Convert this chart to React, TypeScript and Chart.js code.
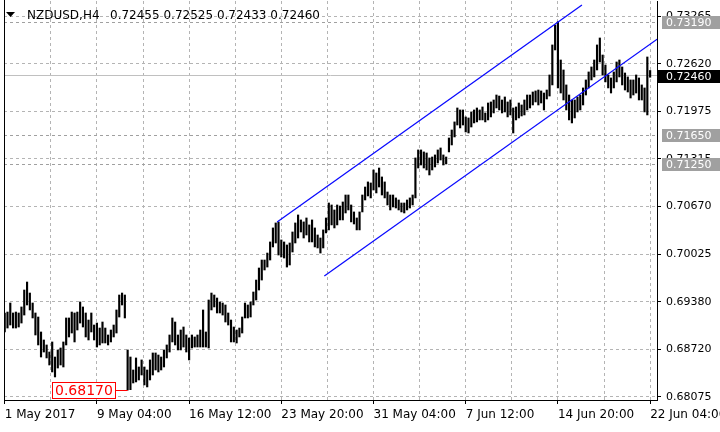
import React, { useEffect, useRef } from "react";
import { Chart, registerables } from "chart.js";

Chart.register(...registerables);

// H4 bars, 1 May 2017 20:00 -> 22 Jun 2017 04:00 (bar index = position)
const highs: number[] = [
  0.69220, 0.69233, 0.69356, 0.69220, 0.69233, 0.69220, 0.69302, 0.69533, 0.69642, 0.69492,
  0.69356, 0.69220, 0.69165, 0.68961, 0.68852, 0.68784, 0.68688, 0.68825, 0.68620, 0.68716,
  0.68743, 0.68825, 0.69152, 0.69152, 0.69233, 0.69220, 0.69233, 0.69370, 0.69302, 0.69220,
  0.69124, 0.69220, 0.69056, 0.69083, 0.69015, 0.69097, 0.69015, 0.68920, 0.68988, 0.69056,
  0.69261, 0.69465, 0.69492, 0.69465, 0.68716, 0.68620, 0.68443, 0.68607, 0.68484, 0.68580,
  0.68484, 0.68443, 0.68580, 0.68675, 0.68675, 0.68647, 0.68620, 0.68716, 0.68784, 0.68920,
  0.69152, 0.69097, 0.68920, 0.68988, 0.69029, 0.68920, 0.68879, 0.68920, 0.68893, 0.68920,
  0.68988, 0.69261, 0.68961, 0.69397, 0.69492, 0.69465, 0.69424, 0.69370, 0.69356, 0.69329,
  0.69220, 0.69124, 0.69029, 0.68988, 0.69015, 0.69165, 0.69356, 0.69329, 0.69370, 0.69506,
  0.69669, 0.69833, 0.69942, 0.69942, 0.70037, 0.70188, 0.70379, 0.70447, 0.70461, 0.70215,
  0.70188, 0.70147, 0.70174, 0.70324, 0.70447, 0.70556, 0.70488, 0.70461, 0.70515, 0.70420,
  0.70488, 0.70379, 0.70283, 0.70242, 0.70352, 0.70515, 0.70719, 0.70692, 0.70624, 0.70692,
  0.70678, 0.70733, 0.70828, 0.70828, 0.70692, 0.70597, 0.70515, 0.70597, 0.70828, 0.70937,
  0.71006, 0.70992, 0.71169, 0.71128, 0.71196, 0.71074, 0.71006, 0.70869, 0.70828, 0.70828,
  0.70788, 0.70760, 0.70719, 0.70719, 0.70760, 0.70788, 0.70828, 0.71333, 0.71442, 0.71442,
  0.71415, 0.71401, 0.71333, 0.71346, 0.71374, 0.71442, 0.71469, 0.71374, 0.71346, 0.71605,
  0.71714, 0.71824, 0.72014, 0.71987, 0.71987, 0.71892, 0.71878, 0.71960, 0.71987, 0.72014,
  0.71987, 0.72028, 0.71946, 0.72082, 0.72096, 0.72123, 0.72191, 0.72177, 0.72123, 0.72164,
  0.72096, 0.72123, 0.72014, 0.72028, 0.72082, 0.72055, 0.72123, 0.72191, 0.72191, 0.72232,
  0.72246, 0.72259, 0.72246, 0.72218, 0.72259, 0.72464, 0.72873, 0.73145, 0.73190, 0.72668,
  0.72532, 0.72328, 0.72191, 0.72123, 0.72123, 0.72164, 0.72191, 0.72287, 0.72396, 0.72505,
  0.72573, 0.72668, 0.72873, 0.72968, 0.72736, 0.72600, 0.72464, 0.72423, 0.72505, 0.72641,
  0.72668, 0.72573, 0.72491, 0.72437, 0.72396, 0.72396, 0.72464, 0.72423, 0.72328, 0.72287,
  0.72709, 0.72525,
];

const lows: number[] = [
  0.68961, 0.69015, 0.69056, 0.69015, 0.69015, 0.69029, 0.69083, 0.69192, 0.69329, 0.69261,
  0.69152, 0.68920, 0.68784, 0.68620, 0.68688, 0.68607, 0.68511, 0.68416, 0.68348, 0.68470,
  0.68511, 0.68484, 0.68784, 0.68893, 0.68947, 0.68825, 0.68988, 0.69083, 0.69029, 0.68893,
  0.68852, 0.68961, 0.68852, 0.68756, 0.68784, 0.68811, 0.68811, 0.68784, 0.68825, 0.68893,
  0.68947, 0.69165, 0.69329, 0.69152, 0.68170, 0.68175, 0.68266, 0.68280, 0.68307, 0.68375,
  0.68239, 0.68212, 0.68307, 0.68375, 0.68443, 0.68416, 0.68443, 0.68484, 0.68607, 0.68688,
  0.68825, 0.68784, 0.68716, 0.68716, 0.68756, 0.68688, 0.68580, 0.68743, 0.68756, 0.68756,
  0.68756, 0.68756, 0.68756, 0.68743, 0.69261, 0.69302, 0.69220, 0.69220, 0.69192, 0.69097,
  0.69056, 0.68825, 0.68825, 0.68811, 0.68893, 0.68947, 0.69152, 0.69152, 0.69165, 0.69329,
  0.69397, 0.69533, 0.69669, 0.69806, 0.69846, 0.69942, 0.70120, 0.70174, 0.70010, 0.69983,
  0.69969, 0.69846, 0.69874, 0.70051, 0.70174, 0.70242, 0.70324, 0.70242, 0.70283, 0.70188,
  0.70188, 0.70120, 0.70106, 0.70037, 0.70106, 0.70311, 0.70352, 0.70420, 0.70379, 0.70420,
  0.70488, 0.70488, 0.70583, 0.70624, 0.70461, 0.70433, 0.70352, 0.70352, 0.70597, 0.70760,
  0.70815, 0.70788, 0.70896, 0.70856, 0.70937, 0.70828, 0.70788, 0.70692, 0.70624, 0.70665,
  0.70651, 0.70624, 0.70597, 0.70583, 0.70624, 0.70651, 0.70692, 0.70788, 0.71196, 0.71237,
  0.71196, 0.71169, 0.71101, 0.71169, 0.71210, 0.71264, 0.71305, 0.71237, 0.71251, 0.71415,
  0.71510, 0.71619, 0.71782, 0.71742, 0.71782, 0.71687, 0.71673, 0.71755, 0.71810, 0.71824,
  0.71851, 0.71851, 0.71824, 0.71851, 0.71892, 0.71946, 0.72014, 0.71987, 0.71946, 0.71960,
  0.71892, 0.71919, 0.71673, 0.71851, 0.71878, 0.71905, 0.71919, 0.71987, 0.72014, 0.72055,
  0.72096, 0.72055, 0.72082, 0.71987, 0.72137, 0.72177, 0.72328, 0.72805, 0.72287, 0.72218,
  0.72123, 0.71987, 0.71851, 0.71810, 0.71878, 0.71960, 0.71987, 0.72055, 0.72191, 0.72287,
  0.72396, 0.72437, 0.72532, 0.72641, 0.72464, 0.72369, 0.72287, 0.72218, 0.72287, 0.72369,
  0.72437, 0.72328, 0.72259, 0.72232, 0.72150, 0.72191, 0.72218, 0.72123, 0.72123, 0.71960,
  0.71919, 0.72433,
];

const yTickValues: number[] = [0.68075, 0.68724, 0.69373, 0.70021, 0.7067, 0.71319, 0.71968, 0.72617, 0.73265];
const yTickLabels: string[] = ["0.68075", "0.68720", "0.69380", "0.70025", "0.70670", "0.71315", "0.71975", "0.72620", "0.73265"];
const xGridIdx: number[] = [0, 16.5, 33, 49.5, 66, 82.5, 99, 115.5, 132, 148.5, 165, 181.5, 198, 214.5, 231];
const xLabelIdx: number[] = [0, 33, 66, 99, 132, 165, 198, 231];
const xLabels: string[] = ["1 May 2017", "9 May 04:00", "16 May 12:00", "23 May 20:00", "31 May 04:00", "7 Jun 12:00", "14 Jun 20:00", "22 Jun 04:00"];

const levelPrices: number[] = [0.7319, 0.7165, 0.7125];
const levelLabels: string[] = ["0.73190", "0.71650", "0.71250"];
const bidPrice = 0.7246;
const bidLabel = "0.72460";
const lowLabel = "0.68170";
const symbolText = "NZDUSD,H4";
const ohlcText: string[] = ["0.72455", "0.72525", "0.72433", "0.72460"];

const upperChannel = [{ x: 97.5, y: 0.70461 }, { x: 206.6, y: 0.73418 }];
const lowerChannel = [{ x: 114.4, y: 0.69724 }, { x: 233.5, y: 0.72951 }];

const X_MIN = -0.25;
const X_MAX = 233.46;
const Y_MIN = 0.68034;
const Y_MAX = 0.73472;

const FONT = "'DejaVu Sans', Verdana, sans-serif";

const overlayPlugin = {
  id: "mtOverlay",
  beforeDatasetsDraw(chart: any) {
    const { ctx, chartArea: a, scales } = chart;
    const y = scales.y;
    ctx.save();
    ctx.beginPath();
    ctx.rect(a.left, a.top, a.right - a.left, a.bottom - a.top);
    ctx.clip();
    ctx.lineWidth = 1;
    ctx.setLineDash([3, 3]);
    ctx.strokeStyle = "#a0a0a0";
    levelPrices.forEach((p) => {
      const py = Math.round(y.getPixelForValue(p)) + 0.5;
      ctx.beginPath();
      ctx.moveTo(a.left, py);
      ctx.lineTo(a.right, py);
      ctx.stroke();
    });
    ctx.setLineDash([]);
    ctx.strokeStyle = "#c0c0c0";
    const by = Math.round(y.getPixelForValue(bidPrice)) + 0.5;
    ctx.beginPath();
    ctx.moveTo(a.left, by);
    ctx.lineTo(a.right, by);
    ctx.stroke();
    ctx.restore();
  },
  afterDraw(chart: any) {
    const { ctx, chartArea: a, scales } = chart;
    const x = scales.x;
    const y = scales.y;
    ctx.save();
    // left border
    ctx.strokeStyle = "#000";
    ctx.lineWidth = 1;
    ctx.beginPath();
    ctx.moveTo(a.left + 0.5, 0);
    ctx.lineTo(a.left + 0.5, a.bottom);
    ctx.stroke();

    // header
    ctx.fillStyle = "#000";
    ctx.beginPath();
    ctx.moveTo(6, 12);
    ctx.lineTo(15, 12);
    ctx.lineTo(10.5, 17);
    ctx.closePath();
    ctx.fill();
    ctx.font = `12px ${FONT}`;
    ctx.textBaseline = "alphabetic";
    ctx.textAlign = "left";
    ctx.fillText(symbolText, 27, 19);
    ctx.fillText(ohlcText.join(" "), 110, 19);

    // low label
    let li = 0;
    lows.forEach((v, i) => { if (v < lows[li]) li = i; });
    const bx = x.getPixelForValue(li);
    const lyp = Math.round(y.getPixelForValue(lows[li])) + 0.5;
    ctx.font = `14px ${FONT}`;
    const tw = ctx.measureText(lowLabel).width;
    const right = Math.round(bx - 13);
    const left = right - Math.round(tw) - 5;
    ctx.fillStyle = "#fff";
    ctx.fillRect(left, lyp - 8, right - left, 16);
    ctx.strokeStyle = "#ff0000";
    ctx.strokeRect(left + 0.5, lyp - 8, right - left, 16);
    ctx.beginPath();
    ctx.moveTo(right, lyp);
    ctx.lineTo(bx, lyp);
    ctx.stroke();
    ctx.fillStyle = "#ff0000";
    ctx.textBaseline = "middle";
    ctx.fillText(lowLabel, left + 3, lyp + 1);

    // right axis boxes
    ctx.font = `11px ${FONT}`;
    levelPrices.forEach((p, k) => {
      const py = Math.round(y.getPixelForValue(p));
      ctx.fillStyle = "#a0a0a0";
      ctx.fillRect(a.right + 5, py - 6, 720 - a.right - 5, 13);
      ctx.fillStyle = "#fff";
      ctx.fillText(levelLabels[k], a.right + 9, py + 1);
    });
    const bpy = Math.round(y.getPixelForValue(bidPrice)) + 1;
    ctx.fillStyle = "#000";
    ctx.fillRect(a.right + 1, bpy - 6, 720 - a.right - 1, 13);
    ctx.fillStyle = "#fff";
    ctx.fillText(bidLabel, a.right + 9, bpy + 1);
    ctx.restore();
  },
};

export default function App() {
  const ref = useRef<HTMLCanvasElement | null>(null);
  useEffect(() => {
    if (!ref.current) return;
    const chart = new Chart(ref.current, {
      type: "bar",
      data: {
        datasets: [
          {
            type: "line",
            data: upperChannel,
            borderColor: "#0a0aff",
            borderWidth: 1.3,
            pointRadius: 0,
            order: 0,
          } as any,
          {
            type: "line",
            data: lowerChannel,
            borderColor: "#0a0aff",
            borderWidth: 1.3,
            pointRadius: 0,
            order: 0,
          } as any,
          {
            type: "bar",
            data: highs.map((h, i) => ({ x: i, y: [lows[i], h] })),
            backgroundColor: "#000",
            borderWidth: 0,
            barThickness: 1.5,
            grouped: false,
            order: 1,
          } as any,
        ],
      },
      options: {
        animation: false,
        responsive: false,
        devicePixelRatio: 1,
        layout: { padding: { left: 4, top: 1, right: 0, bottom: 0 } },
        plugins: {
          legend: { display: false },
          tooltip: { enabled: false },
        },
        scales: {
          x: {
            type: "linear",
            min: X_MIN,
            max: X_MAX,
            offset: false,
            afterBuildTicks: (s: any) => {
              s.ticks = xGridIdx.map((v) => ({ value: v }));
            },
            afterFit: (s: any) => {
              s.height = 32;
              s.paddingLeft = 0;
              s.paddingRight = 0;
            },
            grid: {
              offset: false,
              color: "#b4b4b4",
              lineWidth: 1,
              tickLength: 4,
              tickColor: (c: any) =>
                c.tick && xLabelIdx.includes(c.tick.value) ? "#000" : "rgba(0,0,0,0)",
            },
            border: { display: true, color: "#000", width: 1, dash: [3, 3] },
            ticks: {
              autoSkip: false,
              maxRotation: 0,
              minRotation: 0,
              align: "start",
              padding: 4,
              color: "#000",
              font: { family: FONT, size: 12 },
              callback: (v: any) => {
                const k = xLabelIdx.indexOf(v);
                return k >= 0 ? xLabels[k] : "";
              },
            },
          } as any,
          y: {
            type: "linear",
            position: "right",
            min: Y_MIN,
            max: Y_MAX,
            beginAtZero: false,
            afterBuildTicks: (s: any) => {
              s.ticks = yTickValues.map((v) => ({ value: v }));
            },
            afterFit: (s: any) => {
              s.width = 63;
              s.paddingTop = 0;
              s.paddingBottom = 0;
            },
            grid: {
              color: "#b4b4b4",
              lineWidth: 1,
              tickLength: 4,
              tickColor: "#000",
            },
            border: { display: true, color: "#000", width: 1, dash: [3, 3] },
            ticks: {
              padding: 5,
              color: "#000",
              font: { family: FONT, size: 11 },
              callback: (_v: any, i: number) => yTickLabels[i],
            },
          } as any,
        },
      },
      plugins: [overlayPlugin],
    });
    return () => chart.destroy();
  }, []);

  return (
    <div style={{ position: "fixed", left: 0, top: 0, width: 720, height: 432, background: "#fff" }}>
      <canvas ref={ref} width={720} height={432} style={{ display: "block", width: 720, height: 432 }} />
    </div>
  );
}
